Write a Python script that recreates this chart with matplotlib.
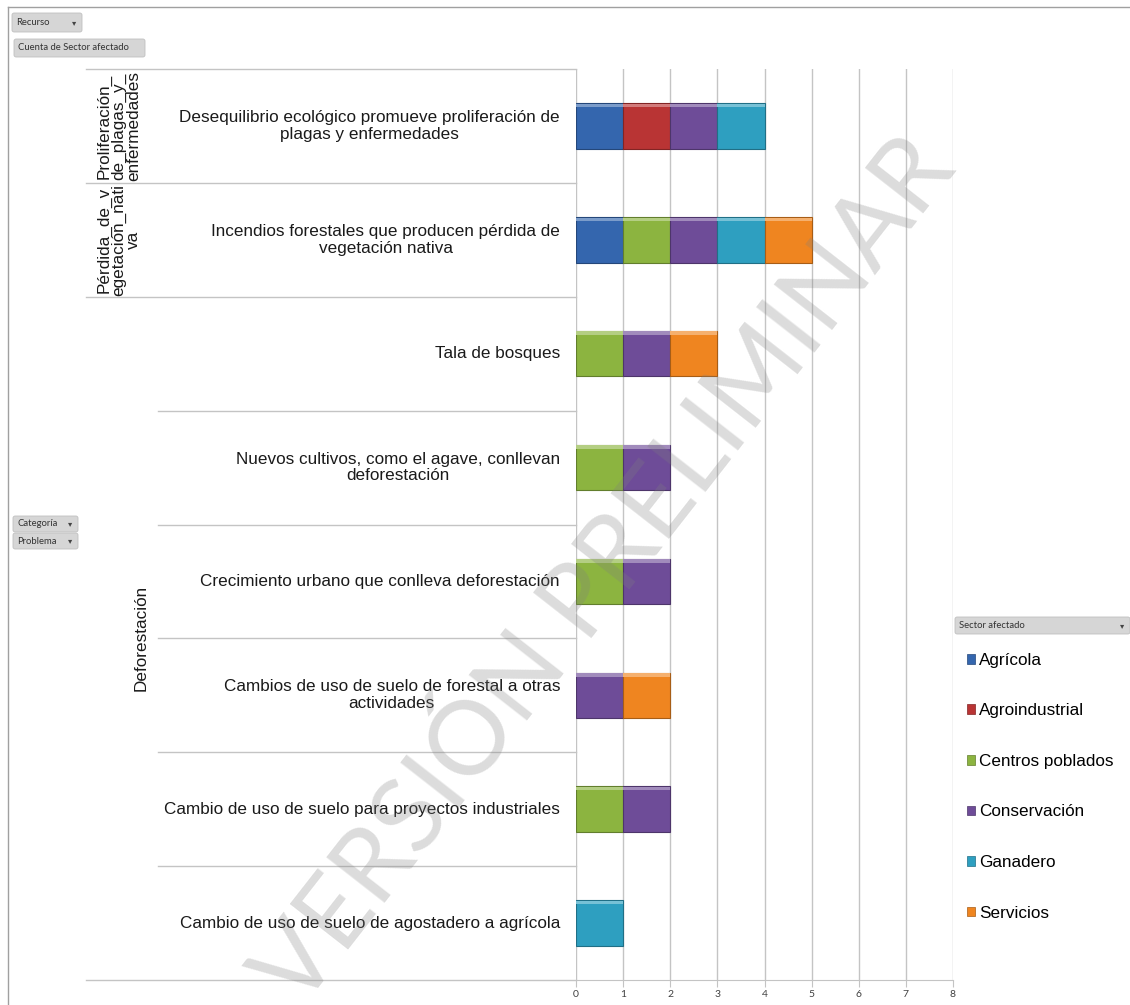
import matplotlib
matplotlib.use("Agg")
import matplotlib.pyplot as plt
import matplotlib.transforms as mtransforms
from matplotlib.patches import Patch, FancyBboxPatch
from matplotlib.lines import Line2D
import matplotlib.colors as mcolors

plt.rcParams['font.family'] = ['Liberation Sans', 'DejaVu Sans']

# ---------------------------
# Datos
# ---------------------------
problemas = [
    "Desequilibrio ecológico promueve proliferación de\nplagas y enfermedades",
    "Incendios forestales que producen pérdida de\nvegetación nativa",
    "Tala de bosques",
    "Nuevos cultivos, como el agave, conllevan\ndeforestación",
    "Crecimiento urbano que conlleva deforestación",
    "Cambios de uso de suelo de forestal a otras\nactividades",
    "Cambio de uso de suelo para proyectos industriales",
    "Cambio de uso de suelo de agostadero a agrícola",
]
categorias = [
    ("Proliferación_\nde_plagas_y_\nenfermedades", 0, 0),
    ("Pérdida_de_v\negetación_nati\nva", 1, 1),
    ("Deforestación", 2, 7),
]
sectores = ["Agrícola", "Agroindustrial", "Centros poblados",
            "Conservación", "Ganadero", "Servicios"]
colores = ["#3466ae", "#b93434", "#8cb440", "#6e4c98", "#2e9fc0", "#ef8520"]

# cuenta por problema (filas) y sector (columnas)
agricola       = [1, 1, 0, 0, 0, 0, 0, 0]
agroindustrial = [1, 0, 0, 0, 0, 0, 0, 0]
centros        = [0, 1, 1, 1, 1, 0, 1, 0]
conservacion   = [1, 1, 1, 1, 1, 1, 1, 0]
ganadero       = [1, 1, 0, 0, 0, 0, 0, 1]
servicios      = [0, 1, 1, 0, 0, 1, 0, 0]
valores = [agricola, agroindustrial, centros, conservacion, ganadero, servicios]

ticks_x = [0, 1, 2, 3, 4, 5, 6, 7, 8]

# ---------------------------
# Figura
# ---------------------------
W, H = 1130, 1005
fig = plt.figure(figsize=(W / 100, H / 100), dpi=100)
ax = fig.add_axes([576 / W, 1 - 980 / H, (953 - 576) / W, (980 - 69) / H])


def oscuro(c, f=0.7):
    r, g, b = mcolors.to_rgb(c)
    return (r * f, g * f, b * f)


def claro(c, f=0.35):
    r, g, b = mcolors.to_rgb(c)
    return (r + (1 - r) * f, g + (1 - g) * f, b + (1 - b) * f)


izq = [0] * len(problemas)
for nombre, col, vals in zip(sectores, colores, valores):
    ys = [i for i, v in enumerate(vals) if v > 0]
    ws = [vals[i] for i in ys]
    ls = [izq[i] for i in ys]
    ax.barh(ys, ws, left=ls, height=0.40, color=col,
            edgecolor=oscuro(col), linewidth=0.8, zorder=3)
    # brillo superior (efecto biselado)
    ax.barh([y - 0.18 for y in ys], ws, left=ls, height=0.03,
            color=claro(col), linewidth=0, zorder=4)
    izq = [a + b for a, b in zip(izq, vals)]

ax.set_xlim(0, 8)
ax.set_ylim(len(problemas) - 0.5, -0.5)
ax.set_xticks(ticks_x)
ax.set_xticklabels([str(t) for t in ticks_x], fontsize=7.5, color="#404040",
                   family=["Lato", "DejaVu Sans"])
ax.set_yticks([])
ax.grid(axis="x", color="#c4c4c4", linewidth=1, zorder=0)
for s in ["top", "right", "left"]:
    ax.spines[s].set_visible(False)
ax.spines["bottom"].set_color("#c4c4c4")
ax.tick_params(axis="x", length=5, color="#c4c4c4", pad=2)

# etiquetas de problema y de categoría
tr = mtransforms.blended_transform_factory(fig.transFigure, ax.transData)
for i, txt in enumerate(problemas):
    ax.text(560 / W, i, txt, transform=tr, ha="right", va="center",
            fontsize=12.3, color="#1a1a1a", multialignment="center",
            linespacing=1.15)

for nombre, a, b in categorias:
    xc = 119 / W if a < 2 else 141 / W
    ax.text(xc, (a + b) / 2, nombre, transform=tr, rotation=90, ha="center",
            va="center", fontsize=12.3, color="#1a1a1a", linespacing=0.95,
            multialignment="center")

# líneas separadoras
for k in range(len(problemas) + 1):
    y = k - 0.5
    x0 = 86 / W if k <= 2 or k == len(problemas) else 158 / W
    ax.add_line(Line2D([x0, 576 / W], [y, y], transform=tr, color="#c4c4c4",
                       linewidth=1, clip_on=False))

# marco exterior
fig.add_artist(Line2D([8 / W, 8 / W], [0, 1 - 7 / H], transform=fig.transFigure,
                      color="#a0a0a0", linewidth=1))
fig.add_artist(Line2D([8 / W, 1], [1 - 7 / H, 1 - 7 / H], transform=fig.transFigure,
                      color="#a0a0a0", linewidth=1))


def boton(x0, y0, x1, y1, texto, flecha=True):
    fig.add_artist(FancyBboxPatch((x0 / W, 1 - y1 / H), (x1 - x0) / W, (y1 - y0) / H,
                                  boxstyle="round,pad=0,rounding_size=0.002",
                                  transform=fig.transFigure, facecolor="#d6d6d6",
                                  edgecolor="#c0c0c0", linewidth=0.6))
    fig.text((x0 + 4) / W, 1 - (y0 + y1) / 2 / H, texto, fontsize=6.8,
             color="#333333", va="center", family=["Lato", "DejaVu Sans"])
    if flecha:
        fig.text((x1 - 8) / W, 1 - (y0 + y1) / 2 / H, "▾", fontsize=6,
                 color="#444444", va="center", ha="center",
                 family=["DejaVu Sans"])


boton(12, 13, 82, 32, "Recurso")
boton(14, 39, 145, 57, "Cuenta de Sector afectado", flecha=False)
boton(13, 516, 78, 532, "Categoría")
boton(13, 533, 78, 549, "Problema")
boton(955, 617, 1130, 634, "Sector afectado")

# leyenda
handles = [Patch(facecolor=c, edgecolor=oscuro(c), linewidth=0.5) for c in colores]
fig.legend(handles, sectores, loc="upper left",
           bbox_to_anchor=(960 / W, 1 - 646 / H), frameon=False, fontsize=12.3,
           handlelength=0.5, handleheight=0.5, handletextpad=0.2,
           labelspacing=2.08, borderaxespad=0)

# marca de agua
fig.text(606 / W, 1 - 572 / H, "VERSIÓN PRELIMINAR", rotation=52, fontsize=74,
         color="#7f7f7f", alpha=0.27, ha="center", va="center", zorder=10,
         rotation_mode="anchor", family=["Lato", "DejaVu Sans"])

fig.savefig("out.png", dpi=100)
